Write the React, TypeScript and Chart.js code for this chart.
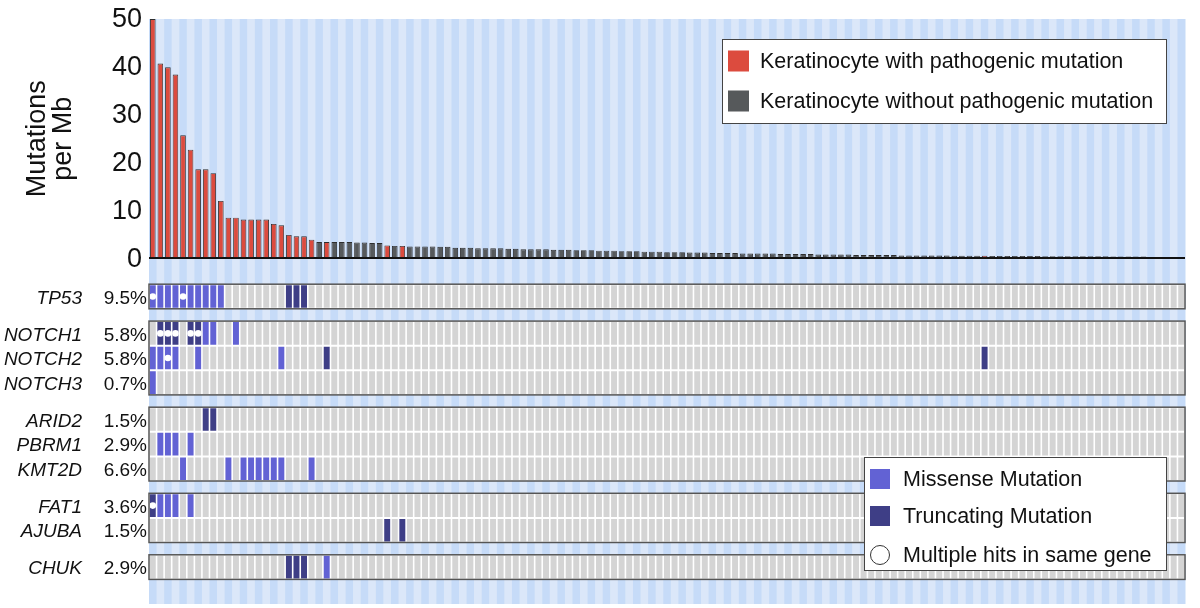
import { useEffect, useRef } from 'react'
import { Chart, registerables } from 'chart.js'

Chart.register(...registerables)

const FONT = '"Liberation Sans", Arial, Helvetica, sans-serif'

const RED = '#dc4b3e'
const DARK = '#56595b'
const MISSENSE = '#6262d4'
const TRUNC = '#3e3e86'
const CELL = '#d4d4d4'
const STRIPE_A = '#c6dbf8'
const STRIPE_B = '#dbe7f9'

// one label per sequenced keratinocyte (137 cells, sorted by burden)
const samples = Array.from({ length: 137 }, (_, i) => `K${i + 1}`)

// mutations per Mb
const burden = [
  50, 40.7, 39.9, 38.4, 25.7, 22.7, 18.6, 18.6, 17.8, 12.0,
  8.5, 8.5, 8.1, 8.1, 8.1, 8.1, 7.2, 6.9, 4.9, 4.6,
  4.6, 3.9, 3.4, 3.4, 3.4, 3.4, 3.4, 3.3, 3.3, 3.2,
  3.2, 2.7, 2.6, 2.6, 2.5, 2.5, 2.5, 2.5, 2.4, 2.4,
  2.2, 2.2, 2.2, 2.1, 2.1, 2.1, 2.1, 2.0, 2.0, 1.9,
  1.9, 1.9, 1.9, 1.8, 1.8, 1.8, 1.7, 1.7, 1.7, 1.6,
  1.6, 1.6, 1.5, 1.5, 1.5, 1.4, 1.4, 1.4, 1.3, 1.3,
  1.3, 1.2, 1.2, 1.2, 1.1, 1.1, 1.1, 1.1, 1.0, 1.0,
  1.0, 1.0, 1.0, 0.9, 0.9, 0.9, 0.9, 0.9, 0.8, 0.8,
  0.8, 0.8, 0.8, 0.7, 0.7, 0.7, 0.7, 0.7, 0.7, 0.6,
  0.6, 0.6, 0.6, 0.6, 0.6, 0.6, 0.55, 0.55, 0.55, 0.55,
  0.55, 0.5, 0.5, 0.5, 0.5, 0.5, 0.5, 0.5, 0.45, 0.45,
  0.45, 0.45, 0.45, 0.45, 0.45, 0.45, 0.45, 0.4, 0.4, 0.4,
  0.4, 0.4, 0, 0, 0, 0, 0,
]

const geneGroups = [
  ['TP53'],
  ['NOTCH1', 'NOTCH2', 'NOTCH3'],
  ['ARID2', 'PBRM1', 'KMT2D'],
  ['FAT1', 'AJUBA'],
  ['CHUK'],
]
const genePct = ['9.5%', '5.8%', '5.8%', '0.7%', '1.5%', '2.9%', '6.6%', '3.6%', '1.5%', '2.9%']

// sample indices per gene (same order as the flattened gene list)
const missense = [
  [0, 1, 2, 3, 4, 5, 6, 7, 8, 9],
  [7, 8, 11],
  [0, 1, 2, 3, 6, 17],
  [0],
  [],
  [1, 2, 3, 5],
  [4, 10, 12, 13, 14, 15, 16, 17, 21],
  [1, 2, 3, 5],
  [],
  [23],
]
const truncating = [
  [18, 19, 20],
  [1, 2, 3, 5, 6],
  [23, 110],
  [],
  [7, 8],
  [],
  [],
  [0],
  [31, 33],
  [18, 19, 20],
]
const multiHits = [[0, 4], [1, 2, 3, 5, 6], [2], [], [], [], [], [0], [], []]

const genes = geneGroups.flat()
// row start on the oncoprint axis: one unit per gene, half a unit between groups
const rowTop = geneGroups.flatMap((g, k) => g.map(() => k)).map((k, i) => i + k * 0.5)
const mutated = samples.map((_, c) => missense.some(m => m.includes(c)) || truncating.some(t => t.includes(c)))

function drawLegend (ctx, left, top, width, height, items) {
  ctx.fillStyle = '#fff'
  ctx.fillRect(left, top, width, height)
  ctx.strokeStyle = '#444'
  ctx.lineWidth = 1
  ctx.strokeRect(left + 0.5, top + 0.5, width, height)
  ctx.font = `21.5px ${FONT}`
  ctx.textBaseline = 'middle'
  ctx.textAlign = 'left'
  items.forEach(it => {
    const cy = top + it.dy
    if (it.circle) {
      ctx.beginPath()
      ctx.arc(left + 16, cy, 9.5, 0, Math.PI * 2)
      ctx.fillStyle = '#fff'
      ctx.fill()
      ctx.strokeStyle = '#333'
      ctx.stroke()
    } else {
      ctx.fillStyle = it.color
      ctx.fillRect(left + 6, cy - it.size / 2, it.size, it.size)
    }
    ctx.fillStyle = '#111'
    ctx.fillText(it.label, left + it.tx, cy + 1)
  })
}

const oncoPlugin = {
  id: 'onco',
  beforeDraw (chart) {
    const { ctx, chartArea: a, scales: { x } } = chart
    const w = (a.right - a.left) / samples.length
    ctx.save()
    samples.forEach((_, i) => {
      const cx = x.getPixelForValue(i)
      ctx.fillStyle = i % 2 === 0 ? STRIPE_A : STRIPE_B
      ctx.fillRect(cx - w / 2, a.top, w + 0.5, a.bottom - a.top)
    })
    ctx.restore()
  },
  beforeDatasetsDraw (chart) {
    const { ctx, chartArea: a, scales: { y2 } } = chart
    ctx.save()
    ctx.fillStyle = '#fff'
    let n = 0
    geneGroups.forEach(g => {
      const t = y2.getPixelForValue(rowTop[n])
      const b = y2.getPixelForValue(rowTop[n] + g.length)
      ctx.fillRect(a.left, t, a.right - a.left, b - t)
      n += g.length
    })
    ctx.restore()
  },
  afterDatasetsDraw (chart) {
    const { ctx, chartArea: a, scales: { y2 } } = chart
    ctx.save()
    ctx.strokeStyle = '#555'
    ctx.lineWidth = 1.5
    let n = 0
    geneGroups.forEach(g => {
      const t = y2.getPixelForValue(rowTop[n])
      const b = y2.getPixelForValue(rowTop[n] + g.length)
      ctx.strokeRect(a.left, t, a.right - a.left, b - t)
      n += g.length
    })
    ctx.fillStyle = '#111'
    ctx.font = `19px ${FONT}`
    ctx.textAlign = 'right'
    ctx.textBaseline = 'middle'
    genePct.forEach((p, i) => {
      ctx.fillText(p, a.left - 2, y2.getPixelForValue(rowTop[i] + 0.5) + 2)
    })
    ctx.restore()
  },
  afterDraw (chart) {
    const { ctx, chartArea: a } = chart
    ctx.save()
    drawLegend(ctx, a.right - 463, a.top + 20, 444, 84, [
      { color: RED, label: 'Keratinocyte with pathogenic mutation', dy: 22, size: 21, tx: 38 },
      { color: DARK, label: 'Keratinocyte without pathogenic mutation', dy: 62, size: 21, tx: 38 },
    ])
    drawLegend(ctx, a.right - 321, a.bottom - 147, 302, 113, [
      { color: MISSENSE, label: 'Missense Mutation', dy: 22, size: 20, tx: 39 },
      { color: TRUNC, label: 'Truncating Mutation', dy: 59, size: 20, tx: 39 },
      { circle: true, label: 'Multiple hits in same gene', dy: 98, tx: 39 },
    ])
    ctx.restore()
  },
}

export default function App () {
  const canvasRef = useRef(null)
  const chartRef = useRef(null)

  useEffect(() => {
    if (chartRef.current) chartRef.current.destroy()

    const geneSets = genes.map((name, i) => ({
      type: 'bar',
      label: name,
      yAxisID: 'y2',
      order: 2,
      grouped: false,
      data: samples.map(() => [rowTop[i], rowTop[i] + 1]),
      backgroundColor: samples.map((_, c) =>
        truncating[i].includes(c) ? TRUNC : missense[i].includes(c) ? MISSENSE : CELL),
      borderColor: '#fff',
      borderWidth: { top: 1, bottom: 1, left: 0.8, right: 0.8 },
      borderSkipped: false,
      inflateAmount: 0,
      barPercentage: 1,
      categoryPercentage: 1,
    }))

    chartRef.current = new Chart(canvasRef.current, {
      type: 'bar',
      data: {
        labels: samples,
        datasets: [
          {
            type: 'line',
            label: 'multiple hits',
            yAxisID: 'y2',
            order: 0,
            showLine: false,
            data: multiHits.flatMap((cols, i) => cols.map(c => ({ x: samples[c], y: rowTop[i] + 0.5 }))),
            pointRadius: 3.3,
            pointBackgroundColor: '#fff',
            pointBorderWidth: 0,
          },
          {
            type: 'bar',
            label: 'Mutations per Mb',
            yAxisID: 'y',
            order: 1,
            grouped: false,
            data: burden,
            backgroundColor: samples.map((_, c) => mutated[c] ? RED : DARK),
            borderColor: '#2e2e2e',
            borderWidth: 0.9,
            barPercentage: 0.74,
            categoryPercentage: 1,
          },
          ...geneSets,
        ],
      },
      options: {
        animation: false,
        responsive: true,
        maintainAspectRatio: false,
        events: [],
        layout: { padding: { top: 19, right: 15, bottom: 0, left: 0 } },
        plugins: {
          legend: { display: false },
          tooltip: { enabled: false },
        },
        scales: {
          x: { type: 'category', display: false, offset: true },
          y: {
            type: 'linear',
            position: 'left',
            stack: 'panel',
            stackWeight: 241,
            weight: 1,
            min: 0,
            max: 50,
            ticks: {
              stepSize: 10,
              autoSkip: false,
              padding: 7,
              labelOffset: 1,
              color: '#111',
              font: { family: FONT, size: 27 },
            },
            grid: {
              drawTicks: false,
              lineWidth: 2,
              color: c => (c.tick && c.tick.value === 0 ? '#111' : 'rgba(0,0,0,0)'),
            },
            border: { display: false },
            title: {
              display: true,
              text: ['Mutations', 'per Mb'],
              color: '#111',
              font: { family: FONT, size: 27, lineHeight: 0.97 },
              padding: { top: 24, bottom: 0 },
            },
            afterFit: s => { s.width = 149; s.paddingTop = 0; s.paddingBottom = 0 },
          },
          y2: {
            type: 'linear',
            position: 'left',
            stack: 'panel',
            stackWeight: 348,
            weight: 0,
            reverse: true,
            min: -1.05,
            max: 13,
            grid: { display: false, drawTicks: false },
            border: { display: false },
            ticks: {
              autoSkip: false,
              padding: 67,
              labelOffset: 2,
              color: '#111',
              font: { family: FONT, size: 19, style: 'italic' },
              callback: (v, i) => genes[i],
            },
            afterBuildTicks: s => { s.ticks = genes.map((_, i) => ({ value: rowTop[i] + 0.5 })) },
            afterFit: s => { s.width = 149; s.paddingTop = 0; s.paddingBottom = 0 },
          },
        },
      },
      plugins: [oncoPlugin],
    })

    return () => {
      if (chartRef.current) {
        chartRef.current.destroy()
        chartRef.current = null
      }
    }
  }, [])

  return (
    <div style={{ position: 'fixed', left: 0, top: 0, width: 1200, height: 608, background: '#fff' }}>
      <canvas ref={canvasRef} />
    </div>
  )
}
